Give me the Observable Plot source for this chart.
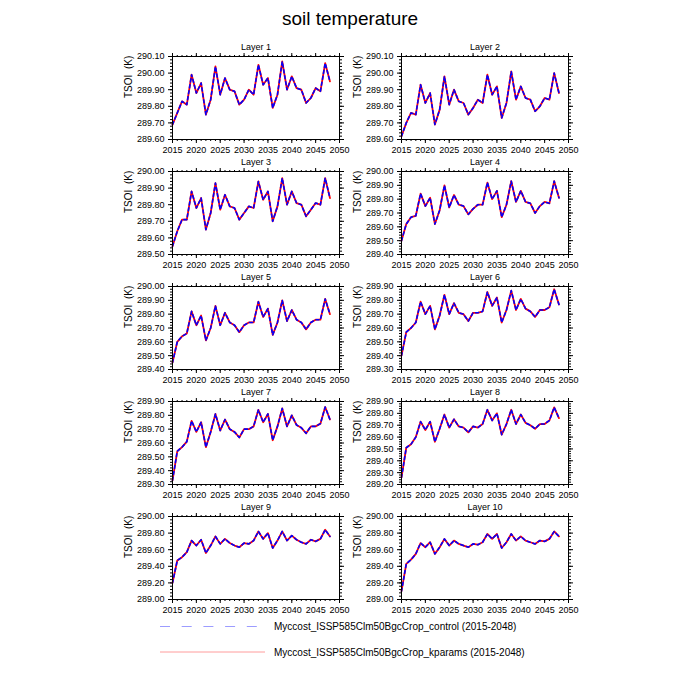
<!DOCTYPE html>
<html>
<head>
<meta charset="utf-8">
<script src="https://cdn.jsdelivr.net/npm/d3@7"></script>
<script src="https://cdn.jsdelivr.net/npm/@observablehq/plot@0.6"></script>
<style>
  body { margin: 0; background: white; font-family: "Liberation Sans", Arial, Helvetica, sans-serif; }
  #wrap { position: relative; width: 700px; height: 700px; overflow: hidden; }
  #title { position: absolute; left: 0; width: 700px; top: 8px; text-align: center; font-size: 19px; }
  .panel { position: absolute; }
  #legend { position: absolute; left: 0; top: 610px; }
</style>
</head>
<body>
<div id="wrap">
  <div id="title">soil temperature</div>
</div>
<script>
const years = d3.range(2015, 2049);
const layerNames = ["Layer 1","Layer 2","Layer 3","Layer 4","Layer 5","Layer 6","Layer 7","Layer 8","Layer 9","Layer 10"];
const yDomains = [[289.6,290.1],[289.6,290.1],[289.5,290.0],[289.4,290.0],[289.4,290.0],[289.3,289.9],[289.3,289.9],[289.2,289.9],[289.0,290.0],[289.0,290.0]];
const yMajorStep = [0.1,0.1,0.1,0.1,0.1,0.1,0.1,0.1,0.2,0.2];
const xTicks = [2015,2020,2025,2030,2035,2040,2045,2050];
const seriesNames = ["Myccost_ISSP585Clm50BgcCrop_control (2015-2048)", "Myccost_ISSP585Clm50BgcCrop_kparams (2015-2048)"];

const layer1 = [289.69,289.76,289.83,289.81,289.99,289.88,289.94,289.75,289.84,290.04,289.87,289.97,289.90,289.89,289.81,289.84,289.90,289.87,290.05,289.93,289.97,289.79,289.87,290.07,289.90,289.98,289.91,289.90,289.82,289.85,289.91,289.89,290.06,289.95];
const layer2 = [289.62,289.70,289.76,289.75,289.93,289.82,289.88,289.69,289.78,289.98,289.81,289.90,289.83,289.82,289.75,289.79,289.84,289.82,289.99,289.87,289.92,289.73,289.82,290.01,289.84,289.92,289.85,289.84,289.77,289.80,289.85,289.84,290.00,289.88];
const layer3 = [289.55,289.64,289.71,289.71,289.88,289.78,289.84,289.65,289.75,289.93,289.77,289.86,289.79,289.78,289.71,289.75,289.79,289.78,289.94,289.83,289.88,289.70,289.79,289.96,289.80,289.88,289.81,289.80,289.73,289.77,289.81,289.80,289.96,289.84];
const layer4 = [289.50,289.62,289.67,289.68,289.84,289.75,289.81,289.62,289.72,289.90,289.74,289.83,289.76,289.75,289.69,289.73,289.76,289.76,289.92,289.80,289.86,289.67,289.76,289.93,289.78,289.86,289.78,289.77,289.70,289.75,289.78,289.77,289.93,289.81];
const layer5 = [289.45,289.60,289.64,289.66,289.82,289.72,289.79,289.61,289.70,289.86,289.72,289.81,289.74,289.72,289.67,289.72,289.74,289.74,289.89,289.78,289.84,289.65,289.74,289.90,289.75,289.83,289.76,289.74,289.69,289.74,289.76,289.76,289.91,289.80];
const layer6 = [289.40,289.57,289.60,289.64,289.79,289.70,289.76,289.59,289.69,289.84,289.70,289.78,289.71,289.70,289.65,289.71,289.71,289.72,289.86,289.76,289.82,289.64,289.73,289.87,289.73,289.81,289.74,289.72,289.68,289.73,289.73,289.75,289.88,289.77];
const layer7 = [289.33,289.54,289.57,289.61,289.76,289.68,289.75,289.57,289.68,289.81,289.69,289.77,289.70,289.68,289.64,289.70,289.70,289.72,289.84,289.75,289.81,289.62,289.72,289.85,289.72,289.80,289.73,289.71,289.67,289.72,289.72,289.74,289.86,289.77];
const layer8 = [289.26,289.51,289.54,289.60,289.73,289.66,289.73,289.56,289.67,289.79,289.68,289.75,289.69,289.68,289.64,289.69,289.68,289.71,289.83,289.74,289.80,289.62,289.71,289.83,289.71,289.79,289.72,289.70,289.67,289.71,289.71,289.74,289.85,289.76];
const layer9 = [289.20,289.47,289.51,289.57,289.71,289.65,289.72,289.56,289.65,289.76,289.67,289.73,289.68,289.65,289.63,289.68,289.67,289.71,289.82,289.73,289.80,289.62,289.71,289.82,289.71,289.77,289.72,289.69,289.67,289.72,289.70,289.73,289.84,289.76];
const layer10 = [289.10,289.43,289.48,289.55,289.68,289.63,289.69,289.55,289.63,289.73,289.65,289.71,289.67,289.65,289.63,289.67,289.66,289.69,289.79,289.73,289.79,289.62,289.69,289.79,289.71,289.76,289.71,289.69,289.67,289.71,289.70,289.73,289.82,289.76];
// the two experiments are visually indistinguishable in the reference
const controlLayers = [layer1,layer2,layer3,layer4,layer5,layer6,layer7,layer8,layer9,layer10];
const kparamsLayers = [layer1,layer2,layer3,layer4,layer5,layer6,layer7,layer8,layer9,layer10];

const wrap = document.getElementById("wrap");
const mL = 62, mR = 0, mT = 16, mB = 22;
const fw = 167, fh = 83;

function ticksFrom(lo, hi, step) {
  const n = Math.round((hi - lo) / step);
  return d3.range(n + 1).map(i => +(lo + i * step).toFixed(3));
}

for (let i = 0; i < 10; i++) {
  const col = i % 2, row = Math.floor(i / 2);
  const [lo, hi] = yDomains[i];
  const yMajor = ticksFrom(lo, hi, yMajorStep[i]);
  const yMinor = ticksFrom(lo, hi, yMajorStep[i] / 5);
  const xMinor = d3.range(2015, 2051);
  const ctrl = years.map((y, k) => ({year: y, v: controlLayers[i][k]}));
  const kp = years.map((y, k) => ({year: y, v: kparamsLayers[i][k]}));
  const chart = Plot.plot({
    width: mL + fw + mR,
    height: mT + fh + mB,
    marginLeft: mL, marginRight: mR, marginTop: mT, marginBottom: mB,
    x: {domain: [2015, 2050]},
    y: {domain: [lo, hi]},
    style: {fontFamily: "'Liberation Sans', Arial, sans-serif", fontSize: "9px", background: "transparent", overflow: "visible", color: "black"},
    marks: [
      Plot.axisX(xTicks, {anchor: "bottom", tickSize: 4, tickPadding: 3, tickFormat: d => String(d), label: null, fontSize: 9}),
      Plot.axisX(xMinor, {anchor: "bottom", tickSize: 2, tickFormat: () => "", label: null}),
      Plot.axisX(xTicks, {anchor: "top", tickSize: 4, tickFormat: () => "", label: null}),
      Plot.axisX(xMinor, {anchor: "top", tickSize: 2, tickFormat: () => "", label: null}),
      Plot.axisY(yMajor, {anchor: "left", tickSize: 4, tickPadding: 4, tickFormat: d => d.toFixed(2), label: null, fontSize: 9}),
      Plot.axisY(yMinor, {anchor: "left", tickSize: 2, tickFormat: () => "", label: null}),
      Plot.axisY(yMajor, {anchor: "right", tickSize: 4, tickFormat: () => "", label: null}),
      Plot.axisY(yMinor, {anchor: "right", tickSize: 2, tickFormat: () => "", label: null}),
      Plot.line(kp, {x: "year", y: "v", stroke: "#ff0000", strokeWidth: 1.8}),
      Plot.line(ctrl, {x: "year", y: "v", stroke: "#0000ff", strokeWidth: 1.6, strokeDasharray: "3,3"}),
      Plot.frame({stroke: "black", strokeWidth: 1}),
      Plot.text([layerNames[i]], {frameAnchor: "top", dy: -9, lineAnchor: "middle", text: d => d, fontSize: 9}),
      Plot.text(["TSOI  (K)"], {frameAnchor: "left", dx: -44, rotate: -90, lineAnchor: "middle", text: d => d, fontSize: 10})
    ]
  });
  chart.classList.add("panel");
  chart.style.left = (col ? 339.3 : 110) + "px";
  chart.style.top = (55.7 + row * 115 - mT) + "px";
  wrap.appendChild(chart);
}

// legend
const ns = "http://www.w3.org/2000/svg";
const leg = document.createElementNS(ns, "svg");
leg.setAttribute("id", "legend");
leg.setAttribute("width", "700");
leg.setAttribute("height", "60");
leg.innerHTML = `
  <line x1="160" x2="265" y1="16.5" y2="16.5" stroke="#9c9cff" stroke-width="1" stroke-dasharray="10,11.7"/>
  <text x="274" y="16.5" dominant-baseline="central" font-size="10" font-family="'Liberation Sans', Arial, sans-serif">${seriesNames[0]}</text>
  <line x1="160" x2="265" y1="42" y2="42" stroke="#ff9c9c" stroke-width="1"/>
  <text x="274" y="42" dominant-baseline="central" font-size="10" font-family="'Liberation Sans', Arial, sans-serif">${seriesNames[1]}</text>`;
wrap.appendChild(leg);
</script>
</body>
</html>
